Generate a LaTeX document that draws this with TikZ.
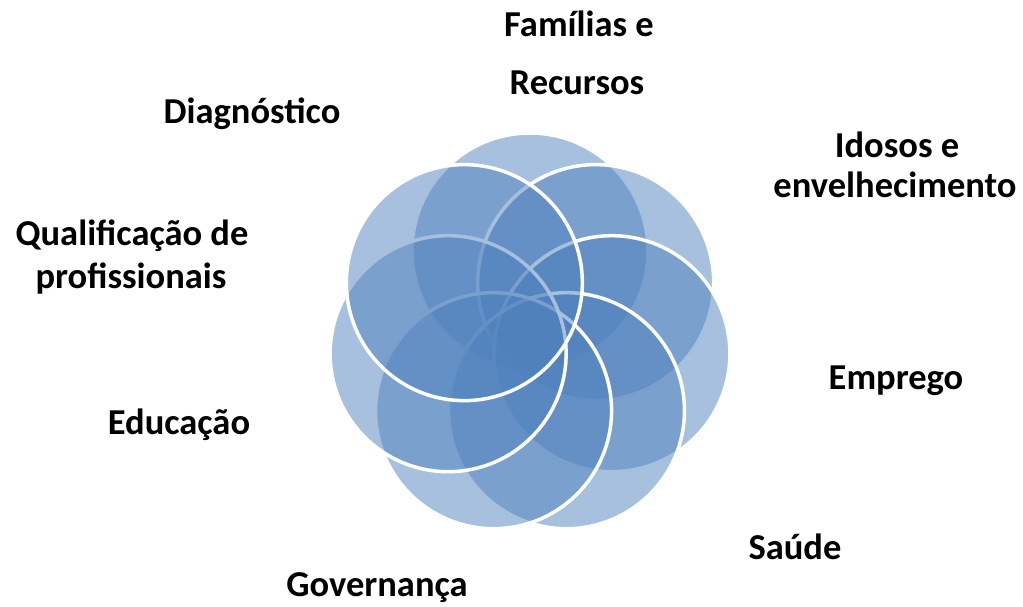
\documentclass[tikz,border=0pt]{standalone}
\usepackage{fontspec}
\setmainfont{Carlito}
\definecolor{petalblue}{RGB}{79,129,189}
\begin{document}
\begin{tikzpicture}[x=1pt,y=-1pt,
  petal/.style={circle, inner sep=0pt, minimum size=236pt, fill=petalblue, fill opacity=0.5, draw=white, line width=3.5pt},
  lbl/.style={anchor=base, font=\fontsize{36.5}{44}\selectfont\bfseries, inner sep=0pt, text=black}]
\useasboundingbox (0,0) rectangle (1023,606);
\foreach \k in {0,...,6} {
  \pgfmathsetmacro\a{90-\k*360/7}
  \node[petal] (p\k) at ({530+84*cos(\a)},{335-84*sin(\a)}) {};
}
\node[lbl] (famA) at (579,36) {Famílias e};
\node[lbl] (famB) at (577,94) {Recursos};
\node[lbl] (diag) at (252,123) {Diagnóstico};
\node[lbl] (idoA) at (897,157) {Idosos e};
\node[lbl] (idoB) at (895,197) {envelhecimento};
\node[lbl] (quaA) at (132,245) {Qualificação de};
\node[lbl] (quaB) at (131,288) {profissionais};
\node[lbl] (emp) at (896,389) {Emprego};
\node[lbl] (edu) at (179,434) {Educação};
\node[lbl] (sau) at (795,559) {Saúde};
\node[lbl] (gov) at (377,596) {Governança};
\end{tikzpicture}
\end{document}
